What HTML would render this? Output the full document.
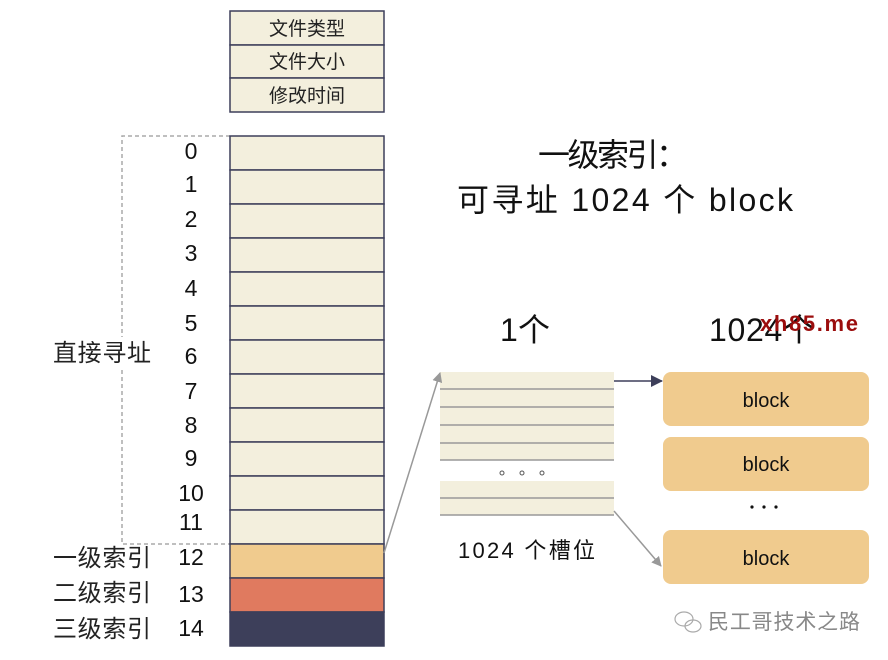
<!DOCTYPE html>
<html><head><meta charset="utf-8"><style>
html,body{margin:0;padding:0;background:#fff;width:888px;height:660px;overflow:hidden}
svg text{font-family:"Liberation Sans","Noto Sans CJK SC",sans-serif}
</style></head><body>
<svg width="888" height="660" viewBox="0 0 888 660" xmlns="http://www.w3.org/2000/svg">
<defs>
<marker id="ag" markerWidth="10" markerHeight="10" refX="9" refY="5" orient="auto" markerUnits="userSpaceOnUse"><path d="M0,0 L10,5 L0,10 z" fill="#999"/></marker>
<marker id="ad" markerWidth="12" markerHeight="12" refX="11" refY="6" orient="auto" markerUnits="userSpaceOnUse"><path d="M0,0 L12,6 L0,12 z" fill="#3d3f5a"/></marker>
</defs>
<path d="M230,136 H122 V337 M122,370 V544 H230" fill="none" stroke="#aaa" stroke-width="1.5" stroke-dasharray="4,3"/>
<g stroke="#3d3f5a" stroke-width="1.5" fill="#f3efdd">
<rect x="230" y="11" width="154" height="34"/>
<rect x="230" y="45" width="154" height="33"/>
<rect x="230" y="78" width="154" height="34"/>
</g>
<g font-size="19" fill="#222" text-anchor="middle">
<text x="307" y="35">文件类型</text>
<text x="307" y="68">文件大小</text>
<text x="307" y="102">修改时间</text>
</g>
<g stroke="#3d3f5a" stroke-width="1.5" fill="#f3efdd">
<rect x="230" y="136" width="154" height="34"/>
<rect x="230" y="170" width="154" height="34"/>
<rect x="230" y="204" width="154" height="34"/>
<rect x="230" y="238" width="154" height="34"/>
<rect x="230" y="272" width="154" height="34"/>
<rect x="230" y="306" width="154" height="34"/>
<rect x="230" y="340" width="154" height="34"/>
<rect x="230" y="374" width="154" height="34"/>
<rect x="230" y="408" width="154" height="34"/>
<rect x="230" y="442" width="154" height="34"/>
<rect x="230" y="476" width="154" height="34"/>
<rect x="230" y="510" width="154" height="34"/>
<rect x="230" y="544" width="154" height="34" fill="#f0cb8e"/>
<rect x="230" y="578" width="154" height="34" fill="#e07a5f"/>
<rect x="230" y="612" width="154" height="34" fill="#3d3f5a"/>
</g>
<g font-size="23" fill="#111" text-anchor="middle">
<text x="191" y="159">0</text>
<text x="191" y="192">1</text>
<text x="191" y="227">2</text>
<text x="191" y="261">3</text>
<text x="191" y="296">4</text>
<text x="191" y="331">5</text>
<text x="191" y="364">6</text>
<text x="191" y="399">7</text>
<text x="191" y="433">8</text>
<text x="191" y="466">9</text>
<text x="191" y="501">10</text>
<text x="191" y="530">11</text>
<text x="191" y="565">12</text>
<text x="191" y="602">13</text>
<text x="191" y="636">14</text>
</g>
<g font-size="24" fill="#222">
<text x="53" y="361" textLength="98">直接寻址</text>
<text x="53" y="566" textLength="98">一级索引</text>
<text x="53" y="601" textLength="98">二级索引</text>
<text x="53" y="637" textLength="98">三级索引</text>
</g>
<g font-size="32" fill="#111">
<text x="538" y="166" textLength="150">一级索引：</text>
<text x="457" y="211" textLength="336">可寻址 1024 个 block</text>
<text x="500" y="341" textLength="50">1个</text>
<text x="709" y="341" textLength="106">1024个</text>
</g>
<text x="760" y="331" font-size="22" font-weight="bold" fill="#9b0d0d" textLength="98">xh85.me</text>
<g stroke="#999" stroke-width="1.5" fill="#f3efdd">
<rect x="440" y="372" width="174" height="88" stroke="none"/>
<line x1="440" y1="389" x2="614" y2="389"/>
<line x1="440" y1="407" x2="614" y2="407"/>
<line x1="440" y1="425" x2="614" y2="425"/>
<line x1="440" y1="443" x2="614" y2="443"/>
<line x1="440" y1="460" x2="614" y2="460"/>
<rect x="440" y="481" width="174" height="34" stroke="none"/>
<line x1="440" y1="498" x2="614" y2="498"/>
<line x1="440" y1="515" x2="614" y2="515"/>
</g>
<g fill="none" stroke="#555" stroke-width="1"><circle cx="502" cy="473" r="2"/><circle cx="522" cy="473" r="2"/><circle cx="542" cy="473" r="2"/></g>
<text x="458" y="558" font-size="22" fill="#111" textLength="137">1024 个槽位</text>
<g fill="#f0cb8e">
<rect x="663" y="372" width="206" height="54" rx="8"/>
<rect x="663" y="437" width="206" height="54" rx="8"/>
<rect x="663" y="530" width="206" height="54" rx="8"/>
</g>
<g font-size="20" fill="#111" text-anchor="middle">
<text x="766" y="407">block</text>
<text x="766" y="471">block</text>
<text x="766" y="565">block</text>
</g>
<g fill="#111"><circle cx="752" cy="507" r="1.6"/><circle cx="764" cy="507" r="1.6"/><circle cx="776" cy="507" r="1.6"/></g>
<line x1="384" y1="553" x2="440" y2="373" stroke="#999" stroke-width="1.5" marker-end="url(#ag)"/>
<line x1="614" y1="381" x2="662" y2="381" stroke="#3d3f5a" stroke-width="1.5" marker-end="url(#ad)"/>
<line x1="614" y1="511" x2="661" y2="566" stroke="#999" stroke-width="1.5" marker-end="url(#ag)"/>
<g fill="none" stroke="#aaa" stroke-width="1.2"><ellipse cx="684" cy="619" rx="9" ry="7"/><ellipse cx="693" cy="626" rx="8" ry="6"/></g>
<text x="708" y="629" font-size="21" fill="#888" textLength="152">民工哥技术之路</text>
</svg>
</body></html>
